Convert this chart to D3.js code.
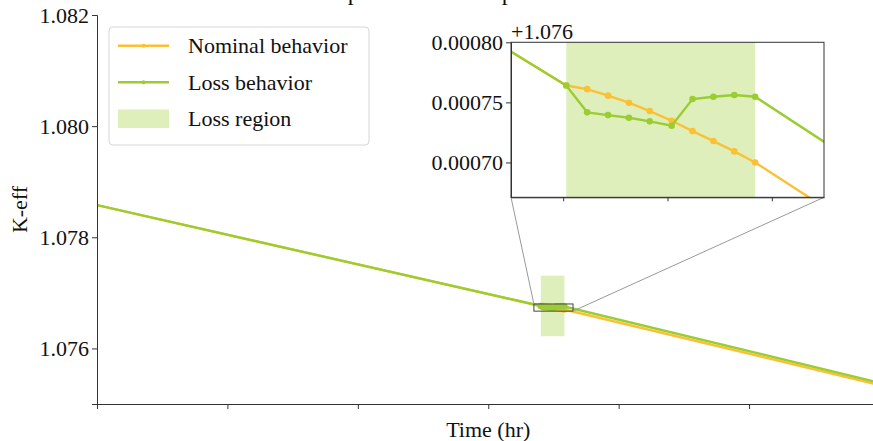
<!DOCTYPE html>
<html>
<head>
<meta charset="utf-8">
<script src="https://cdn.jsdelivr.net/npm/d3@7"></script>
<style>
  body { margin: 0; background: #fff; }
  text { font-family: "Liberation Serif", "DejaVu Serif", serif; fill: #111; }
</style>
</head>
<body>
<svg id="chart" width="873" height="441"></svg>
<script>
// values (time in hr, K-eff)
const nominalTime = [0, 340.3, 342.3, 344.3, 346.3, 348.3, 350.4, 352.4, 354.4, 356.4, 358.4, 600]
const nominalKeff = [1.07858, 1.076764, 1.076761, 1.0767556, 1.0767497, 1.0767428, 1.0767347, 1.0767261, 1.0767178, 1.0767092, 1.0767, 1.075342]
const lossTime = [0, 340.3, 342.3, 344.3, 346.3, 348.3, 350.4, 352.4, 354.4, 356.4, 358.4, 600]
const lossKeff = [1.07858, 1.076764, 1.0767417, 1.0767394, 1.0767372, 1.0767342, 1.0767306, 1.0767528, 1.0767547, 1.0767561, 1.0767547, 1.075382]
const lossStart = 340.3, lossEnd = 358.4
const lossBand = [1.07622, 1.07731]

const mainXTicks = [0, 100, 200, 300, 400, 500, 600]
const mainYTicks = [1.076, 1.078, 1.080, 1.082]
const insetXTicks = [340, 350, 360]
const insetYTicks = [0.0007, 0.00075, 0.0008]
const insetOffset = 1.076
const insetXDomain = [335, 365]
const insetYDomain = [1.076671, 1.0768]

const seriesNames = ["Nominal behavior", "Loss behavior", "Loss region"]
const orange = "#fcc034", green = "#9acd32", band = "#9acd32"

const svg = d3.select("#chart")
const nominal = nominalTime.map((t, i) => ({t: t, k: nominalKeff[i]}))
const loss = lossTime.map((t, i) => ({t: t, k: lossKeff[i]}))
const inRegion = d => d.t >= lossStart && d.t <= lossEnd

// ---- main axes
const m = {left: 97, top: 15, right: 879.5, bottom: 404}
const xScale = d3.scaleLinear().domain([0, 600]).range([m.left, m.right])
const yScale = d3.scaleLinear().domain([1.075, 1.082]).range([m.bottom, m.top])

svg.append("defs").append("clipPath").attr("id", "mainClip")
  .append("rect").attr("x", m.left).attr("y", m.top)
  .attr("width", m.right - m.left).attr("height", m.bottom - m.top)

// title sits above the picture, only its descenders show
svg.append("text")
  .attr("x", (m.left + m.right) / 2 - 17).attr("y", -0.5)
  .attr("text-anchor", "middle").style("font-size", "24px")
  .text("K-eff comparison under a power loss transient")

const main = svg.append("g").attr("clip-path", "url(#mainClip)")

main.append("rect")
  .attr("x", xScale(lossStart)).attr("width", xScale(lossEnd) - xScale(lossStart))
  .attr("y", yScale(lossBand[1])).attr("height", yScale(lossBand[0]) - yScale(lossBand[1]))
  .style("fill", band).style("opacity", 0.33)

function drawSeries(g, data, color, xs, ys) {
  const line = d3.line().x(d => xs(d.t)).y(d => ys(d.k))
  g.append("path")
    .attr("d", line(data))
    .attr("fill", "none")
    .attr("stroke", color)
    .attr("stroke-width", 2.4)
  g.selectAll(null)
    .data(data.filter(inRegion))
    .enter()
    .append("circle")
    .attr("r", 3.3)
    .attr("cx", d => xs(d.t))
    .attr("cy", d => ys(d.k))
    .style("fill", color)
}

drawSeries(main, nominal, orange, xScale, yScale)
drawSeries(main, loss, green, xScale, yScale)

const xAxis = d3.axisBottom(xScale).tickValues(mainXTicks).tickSize(5).tickFormat("")
svg.append("g").attr("transform", `translate(0,${m.bottom})`).call(xAxis)
const yAxis = d3.axisLeft(yScale).tickValues(mainYTicks).tickSize(5).tickFormat(d3.format(".3f"))
svg.append("g").attr("transform", `translate(${m.left},0)`).call(yAxis)
svg.append("line").attr("x1", m.left).attr("x2", m.right).attr("y1", m.top).attr("y2", m.top)

svg.append("text")
  .attr("x", (m.left + m.right) / 2).attr("y", 437)
  .attr("text-anchor", "middle").style("font-size", "22px")
  .text("Time (hr)")
svg.append("text")
  .attr("transform", `translate(27,${(m.top + m.bottom) / 2}) rotate(-90)`)
  .attr("text-anchor", "middle").style("font-size", "22px")
  .text("K-eff")

// ---- zoom indicator in main plot
const zx0 = xScale(insetXDomain[0]), zx1 = xScale(insetXDomain[1])
const zy0 = yScale(insetYDomain[1]), zy1 = yScale(insetYDomain[0])
svg.append("rect")
  .attr("x", zx0).attr("y", zy0).attr("width", zx1 - zx0).attr("height", zy1 - zy0)
  .style("fill", "none").style("stroke", "#444").style("stroke-width", 1)

// ---- inset axes
const n = {left: 511, top: 42.3, right: 824, bottom: 197.3}
const ix = d3.scaleLinear().domain(insetXDomain).range([n.left, n.right])
const iy = d3.scaleLinear().domain(insetYDomain).range([n.bottom, n.top])

svg.append("line").attr("x1", n.left).attr("y1", n.bottom).attr("x2", zx0).attr("y2", zy0)
  .style("stroke", "#999").style("stroke-width", 1)
svg.append("line").attr("x1", n.right).attr("y1", n.bottom).attr("x2", zx1).attr("y2", zy1)
  .style("stroke", "#999").style("stroke-width", 1)

svg.select("defs").append("clipPath").attr("id", "insetClip")
  .append("rect").attr("x", n.left).attr("y", n.top)
  .attr("width", n.right - n.left).attr("height", n.bottom - n.top)

svg.append("rect").attr("x", n.left).attr("y", n.top)
  .attr("width", n.right - n.left).attr("height", n.bottom - n.top)
  .style("fill", "#fff")

const inset = svg.append("g").attr("clip-path", "url(#insetClip)")
inset.append("rect")
  .attr("x", ix(lossStart)).attr("width", ix(lossEnd) - ix(lossStart))
  .attr("y", iy(lossBand[1])).attr("height", iy(lossBand[0]) - iy(lossBand[1]))
  .style("fill", band).style("opacity", 0.33)
drawSeries(inset, nominal, orange, ix, iy)
drawSeries(inset, loss, green, ix, iy)

svg.append("rect").attr("x", n.left).attr("y", n.top)
  .attr("width", n.right - n.left).attr("height", n.bottom - n.top)
  .style("fill", "none").style("stroke", "#333").style("stroke-width", 1)

const ixAxis = d3.axisBottom(ix).tickValues(insetXTicks).tickSize(4).tickSizeOuter(0).tickFormat("")
svg.append("g").attr("transform", `translate(0,${n.bottom})`).call(ixAxis)
const iyAxis = d3.axisLeft(iy).tickValues(insetYTicks.map(v => v + insetOffset))
  .tickSize(5).tickSizeOuter(0).tickFormat(d => (d - insetOffset).toFixed(5))
svg.append("g").attr("transform", `translate(${n.left},0)`).call(iyAxis)
svg.append("text").attr("x", n.left).attr("y", 39).style("font-size", "22px").text("+" + insetOffset)

svg.selectAll(".domain, .tick line").style("stroke", "#333")
svg.selectAll(".tick text").style("font-size", "22px").style("font-family", "'Liberation Serif', serif").attr("fill", "#111")
svg.selectAll("g > line").filter(function() { return !this.style.stroke }).style("stroke", "#333")

// ---- legend
const lg = svg.append("g")
lg.append("rect").attr("x", 109).attr("y", 27).attr("width", 260).attr("height", 118).attr("rx", 4)
  .style("fill", "#fff").style("fill-opacity", 0.8).style("stroke", "#d6d6d6")
const rowY = [45.7, 82.3, 119]
;[orange, green].forEach((c, i) => {
  lg.append("line").attr("x1", 118).attr("x2", 169).attr("y1", rowY[i]).attr("y2", rowY[i])
    .style("stroke", c).style("stroke-width", 2.4)
  lg.append("circle").attr("cx", 143.5).attr("cy", rowY[i]).attr("r", 2).style("fill", c)
})
lg.append("rect").attr("x", 118).attr("y", 109.5).attr("width", 51).attr("height", 18.5)
  .style("fill", band).style("opacity", 0.33)
seriesNames.forEach((s, i) => {
  lg.append("text").attr("x", 188).attr("y", rowY[i]).attr("dy", "0.33em")
    .style("font-size", "22px").text(s)
})
</script>
</body>
</html>
